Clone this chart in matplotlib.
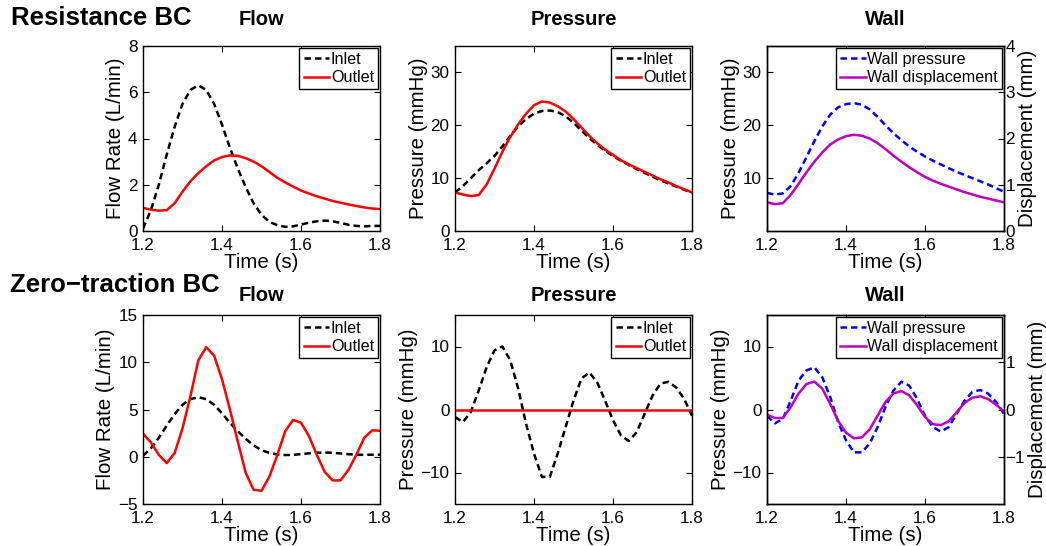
import numpy as np
import matplotlib
matplotlib.use("Agg")
import matplotlib.pyplot as plt

plt.rcParams["font.family"] = ["Liberation Sans", "DejaVu Sans"]
plt.rcParams["xtick.direction"] = "in"
plt.rcParams["ytick.direction"] = "in"
plt.rcParams["axes.linewidth"] = 1.0

# sample times, one every 0.02 s over the last cycle
t = np.round(np.arange(1.20, 1.8001, 0.02), 2)

# resistance BC
flow_in = [0.1, 0.9, 2.0, 3.3, 4.5, 5.5, 6.1, 6.3, 6.1, 5.5, 4.6, 3.6, 2.7, 1.9, 1.2, 0.7,
           0.4, 0.25, 0.18, 0.2, 0.28, 0.36, 0.42, 0.45, 0.42, 0.35, 0.27, 0.22, 0.2, 0.22, 0.22]
flow_out_r = [1.0, 0.92, 0.88, 0.9, 1.2, 1.7, 2.15, 2.5, 2.8, 3.05, 3.2, 3.27, 3.25, 3.15, 3.0, 2.8,
              2.55, 2.3, 2.1, 1.92, 1.75, 1.62, 1.5, 1.4, 1.3, 1.22, 1.15, 1.08, 1.02, 0.97, 0.95]
pres_in_r = [7.3, 8.5, 10.0, 11.5, 12.8, 14.2, 16.0, 18.0, 19.8, 21.2, 22.2, 22.7, 22.8, 22.5, 21.7, 20.5,
             19.0, 17.6, 16.3, 15.2, 14.2, 13.3, 12.5, 11.7, 11.0, 10.3, 9.6, 9.0, 8.4, 7.8, 7.3]
pres_out_r = [7.3, 6.9, 6.6, 6.8, 8.8, 11.8, 15.0, 17.8, 20.2, 22.2, 23.8, 24.5, 24.3, 23.6, 22.6, 21.2,
              19.6, 18.0, 16.6, 15.4, 14.4, 13.4, 12.6, 11.9, 11.2, 10.5, 9.8, 9.2, 8.5, 7.9, 7.3]
wall_p_r = [7.2, 6.9, 7.1, 8.5, 11.0, 14.0, 17.0, 19.8, 22.0, 23.4, 24.0, 24.2, 23.9, 23.0, 21.6, 20.0,
            18.5, 17.2, 16.0, 15.0, 14.1, 13.3, 12.6, 11.9, 11.2, 10.6, 10.0, 9.4, 8.8, 8.1, 7.4]
wall_d_r = [0.62, 0.58, 0.6, 0.78, 1.02, 1.27, 1.5, 1.7, 1.87, 1.98, 2.05, 2.08, 2.06, 2.0, 1.9, 1.77,
            1.63, 1.5, 1.38, 1.27, 1.17, 1.09, 1.02, 0.96, 0.9, 0.84, 0.79, 0.74, 0.7, 0.66, 0.62]

# zero-traction BC
flow_out_z = [2.44, 1.52, 0.2, -0.67, 0.39, 3.0, 6.4, 10.2, 11.6, 10.7, 8.2, 5.0, 1.6, -1.7, -3.5, -3.6,
              -2.1, 0.2, 2.7, 3.9, 3.6, 2.2, 0.2, -1.6, -2.5, -2.5, -1.4, 0.2, 2.0, 2.8, 2.75]
pres_in_z = [-1.2, -2.0, -0.4, 3.0, 6.7, 9.4, 10.0, 7.8, 3.3, -2.3, -7.0, -10.7, -10.7, -7.0, -2.8, 1.4,
             4.9, 5.9, 4.3, 1.4, -1.7, -4.1, -5.0, -3.6, -0.7, 2.2, 4.1, 4.4, 3.5, 1.7, -1.0]
pres_out_z = [0.0] * 31
wall_p_z = [-1.0, -2.2, -1.5, 1.4, 4.6, 6.2, 6.7, 5.1, 2.0, -2.0, -4.9, -6.8, -6.8, -5.4, -2.8, 0.4,
            3.0, 4.4, 3.8, 1.7, -1.0, -2.8, -3.5, -2.8, -0.7, 1.4, 2.8, 3.1, 2.5, 1.2, -0.7]
wall_d_z = [-0.11, -0.18, -0.18, 0.05, 0.34, 0.54, 0.59, 0.44, 0.12, -0.24, -0.49, -0.61, -0.59, -0.42,
            -0.13, 0.16, 0.34, 0.39, 0.30, 0.09, -0.16, -0.31, -0.33, -0.25, -0.06, 0.14, 0.25, 0.28,
            0.22, 0.10, -0.04]

LW = 1.8
DASH = (2.6, 1.6)
TICK_FS = 12.3
LAB_FS = 14.8
TITLE_FS = 14.5
MAG = (0.75, 0, 0.75)

W, H = 1046, 546
fig = plt.figure(figsize=(W / 100, H / 100), dpi=100)

cols = [143, 455, 767]
ax_w = 237
rows = [(46, 231), (315, 504)]


def make_ax(col, row):
    x0 = cols[col]
    top, bot = rows[row]
    return fig.add_axes([x0 / W, 1 - bot / H, ax_w / W, (bot - top) / H])


def style(ax, right=True):
    ax.set_xlim(1.2, 1.8)
    ax.set_xticks([1.2, 1.4, 1.6, 1.8])
    ax.tick_params(labelsize=TICK_FS, length=4, width=0.8, top=True, right=right, pad=4)
    ax.tick_params(axis="x", pad=5)
    ax.set_xlabel("Time (s)", fontsize=LAB_FS, labelpad=0)


def legend(ax, handles=None):
    leg = ax.legend(handles=handles, loc="upper right", fontsize=11.6, handlelength=1.6,
                    handletextpad=0.1, borderpad=0.25, borderaxespad=0.12,
                    labelspacing=0.2, fancybox=False, framealpha=1)
    leg.get_frame().set_edgecolor("black")
    leg.get_frame().set_linewidth(1.0)


def flow_panel(ax, outlet, ylim, yticks):
    ax.plot(t, flow_in, color="black", lw=LW, dashes=DASH, label="Inlet")
    ax.plot(t, outlet, color="red", lw=LW, label="Outlet")
    ax.set_ylim(*ylim)
    ax.set_yticks(yticks)
    ax.set_ylabel("Flow Rate (L/min)", fontsize=LAB_FS, labelpad=2)
    style(ax)
    legend(ax)


def pres_panel(ax, inlet, outlet, ylim, yticks):
    ax.plot(t, inlet, color="black", lw=LW, dashes=DASH, label="Inlet")
    ax.plot(t, outlet, color="red", lw=LW, label="Outlet")
    ax.set_ylim(*ylim)
    ax.set_yticks(yticks)
    ax.set_ylabel("Pressure (mmHg)", fontsize=LAB_FS, labelpad=2)
    style(ax)
    legend(ax)


def wall_panel(ax, pres, disp, ylim, yticks, ylim2, yticks2):
    l1, = ax.plot(t, pres, color="blue", lw=LW, dashes=DASH, label="Wall pressure")
    ax.set_ylim(*ylim)
    ax.set_yticks(yticks)
    ax.set_ylabel("Pressure (mmHg)", fontsize=LAB_FS, labelpad=2)
    style(ax, right=False)
    ax2 = ax.twinx()
    l2, = ax2.plot(t, disp, color=MAG, lw=LW, label="Wall displacement")
    ax2.set_ylim(*ylim2)
    ax2.set_yticks(yticks2)
    ax2.tick_params(labelsize=TICK_FS, length=4, width=0.8, pad=1)
    ax2.set_ylabel("Displacement (mm)", fontsize=LAB_FS, labelpad=2)
    legend(ax2, handles=[l1, l2])


# top row: resistance outlet
ax = make_ax(0, 0)
flow_panel(ax, flow_out_r, (0, 8), [0, 2, 4, 6, 8])
ax.set_title("Flow", fontsize=TITLE_FS, fontweight="bold", pad=15)

ax = make_ax(1, 0)
pres_panel(ax, pres_in_r, pres_out_r, (0, 35), [0, 10, 20, 30])
ax.set_title("Pressure", fontsize=TITLE_FS, fontweight="bold", pad=15)

ax = make_ax(2, 0)
wall_panel(ax, wall_p_r, wall_d_r, (0, 35), [10, 20, 30], (0, 4), [0, 1, 2, 3, 4])
ax.set_title("Wall", fontsize=TITLE_FS, fontweight="bold", pad=15)

# bottom row: zero-traction outlet
ax = make_ax(0, 1)
flow_panel(ax, flow_out_z, (-5, 15), [-5, 0, 5, 10, 15])
ax.set_title("Flow", fontsize=TITLE_FS, fontweight="bold", pad=10)

ax = make_ax(1, 1)
pres_panel(ax, pres_in_z, pres_out_z, (-15, 15), [-10, 0, 10])
ax.set_title("Pressure", fontsize=TITLE_FS, fontweight="bold", pad=10)

ax = make_ax(2, 1)
wall_panel(ax, wall_p_z, wall_d_z, (-15, 15), [-10, 0, 10], (-2, 2), [-1, 0, 1])
ax.set_title("Wall", fontsize=TITLE_FS, fontweight="bold", pad=10)

fig.text(11 / W, 1 - 18 / H, "Resistance BC", fontsize=18.5, fontweight="bold", va="center")
fig.text(10 / W, 1 - 285 / H, "Zero\u2212traction BC", fontsize=18.5, fontweight="bold", va="center")

fig.savefig("out.png", dpi=100)
